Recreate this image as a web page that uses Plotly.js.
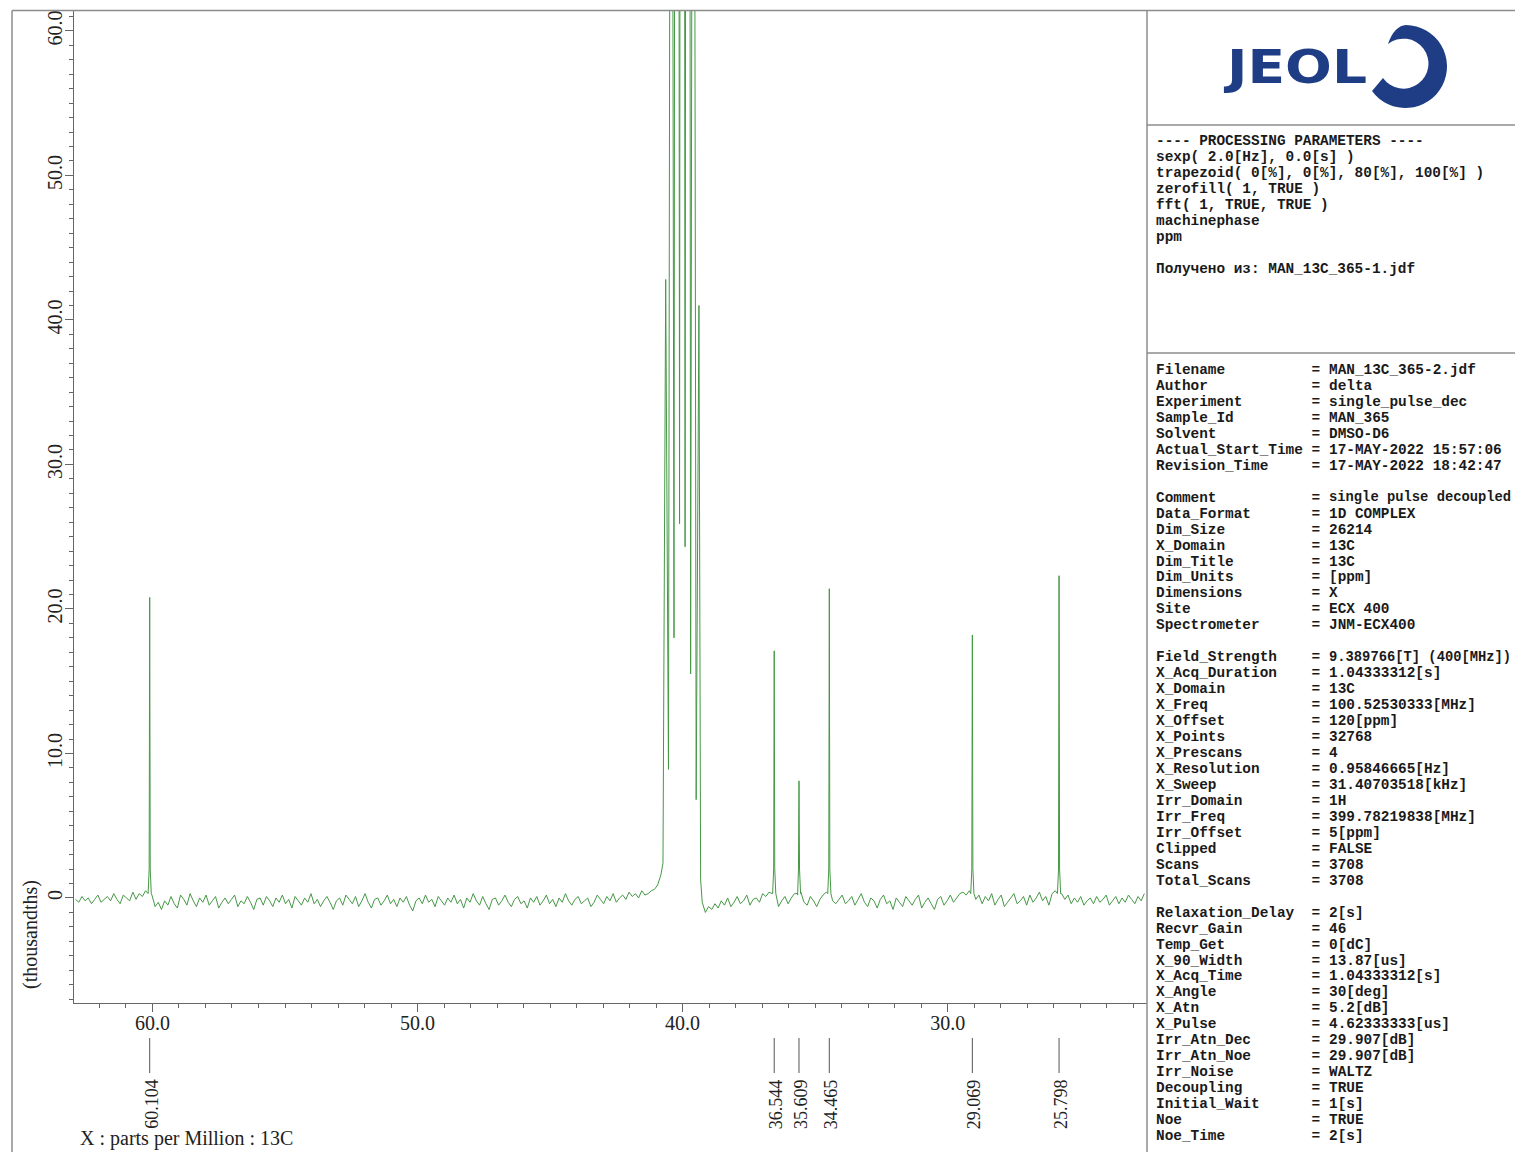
<!DOCTYPE html>
<html><head><meta charset="utf-8">
<script src="https://cdn.plot.ly/plotly-3.0.1.min.js"></script>
<style>html,body{margin:0;padding:0;background:#fff;} #chart{width:1515px;height:1152px;}</style>
</head><body><div id="chart"></div>
<script>
// ---------------- DATA ----------------
const noiseStartPpm = 62.9;
const noiseStepPpm = 0.12;
const baselineNoise = [
 -0.1,-0.3,0.1,-0.2,0.0,-0.4,-0.1,0.2,-0.3,-0.1,0.1,-0.2,0.3,-0.1,-0.4,0.2,0.0,-0.2,0.4,-0.1,
 0.3,0.1,0.5,0.6,0.2,-0.6,-0.3,-0.8,-0.2,-0.5,0.1,-0.4,-0.7,0.2,-0.1,-0.5,0.3,-0.2,-0.6,0.0,
 -0.3,0.2,-0.5,-0.2,0.1,-0.7,-0.3,0.0,-0.4,-0.1,0.2,-0.6,-0.2,-0.4,0.1,-0.3,-0.8,-0.1,0.0,-0.5,
 0.1,-0.2,-0.6,0.0,-0.3,0.2,-0.4,-0.1,-0.7,0.1,-0.2,-0.5,0.0,-0.3,0.3,-0.4,-0.1,-0.6,-0.2,0.1,
 -0.3,-0.8,-0.2,0.0,-0.5,0.2,-0.1,-0.4,0.1,-0.6,-0.2,0.3,-0.3,-0.7,-0.1,0.0,-0.5,-0.2,0.2,-0.4,
 -0.1,-0.6,0.0,-0.3,0.1,-0.5,-0.9,-0.2,0.0,-0.4,0.2,-0.3,-0.1,-0.6,0.1,-0.2,-0.5,0.0,-0.3,0.2,
 -0.4,-0.1,-0.7,0.0,-0.3,0.3,-0.2,-0.5,0.1,-0.4,-0.8,-0.1,0.0,-0.5,-0.2,0.2,-0.3,-0.6,-0.1,0.1,
 -0.4,-0.2,-0.7,0.0,-0.3,0.1,-0.5,-0.2,0.2,-0.4,-0.1,-0.6,0.0,-0.3,0.3,-0.2,-0.5,-0.1,0.1,-0.4,
 -0.2,0.0,-0.6,-0.3,0.2,-0.1,-0.4,0.1,-0.2,0.3,-0.3,0.0,0.2,-0.1,0.4,0.1,0.3,0.0,0.5,0.2,
 0.3,0.5,0.6,0.9,1.6,null,null,null,null,null,null,null,null,null,null,null,null,-0.3,-1.0,-0.6,
 -0.8,-0.4,-0.7,-0.2,-0.5,0.0,-0.6,-0.3,0.1,-0.4,-0.2,0.2,-0.5,-0.1,0.0,-0.3,0.3,0.1,0.4,0.3,
 0.2,-0.6,-0.2,0.1,-0.4,0.0,0.3,0.2,0.4,-0.3,-0.5,0.1,-0.2,-0.6,-0.1,0.2,0.4,0.5,-0.2,-0.4,
 -0.1,0.2,-0.4,-0.2,0.1,-0.5,-0.1,0.3,-0.3,-0.6,0.0,-0.2,-0.7,-0.1,0.2,-0.4,-0.2,-0.8,0.0,-0.3,
 -0.6,0.1,-0.2,-0.5,-0.1,0.2,-0.7,-0.3,0.0,-0.4,-0.8,-0.1,0.1,-0.5,-0.2,0.2,-0.3,0.0,0.3,0.4,
 0.2,0.5,0.3,-0.1,0.2,-0.4,0.1,-0.2,0.3,-0.5,-0.1,0.2,-0.6,-0.3,0.0,0.3,-0.4,-0.2,0.1,-0.5,
 0.2,-0.3,0.0,0.4,-0.2,0.1,-0.5,0.3,0.5,0.4,0.3,-0.1,0.2,-0.4,0.0,-0.3,0.1,-0.5,-0.2,0.0,
 -0.4,0.1,-0.3,-0.1,0.2,-0.5,-0.2,0.1,-0.4,0.0,-0.3,0.2,-0.1,-0.4,0.1,-0.2,0.3
];
const peakPpm = [60.104, 36.544, 35.609, 34.465, 29.069, 25.798];
const peakHeight = [20.8, 17.1, 8.1, 21.4, 18.2, 22.3];
const peakLabels = ['60.104', '36.544', '35.609', '34.465', '29.069', '25.798'];
const solventPpm = [40.638, 40.429, 40.220, 40.011, 39.802, 39.593, 39.384];
const solventHeight = [42.8, 130, 250, 290, 250, 130, 41.0];
const solventValleyPpm = [40.533, 40.324, 40.115, 39.906, 39.697, 39.488];
const solventValley = [8.9, 18.0, 25.9, 24.3, 15.5, 6.8];
const solventEdgePpm = [40.74, 39.32];
const solventEdge = [2.4, 1.3];
const xTickVals = [60, 50, 40, 30];
const xTickText = ['60.0', '50.0', '40.0', '30.0'];
const yTickVals = [0, 10, 20, 30, 40, 50, 60];
const yTickText = ['0', '10.0', '20.0', '30.0', '40.0', '50.0', '60.0'];
const xAxisTitle = 'X : parts per Million : 13C';
const yAxisTitle = '(thousandths)';
const procParams = [
 '---- PROCESSING PARAMETERS ----',
 'sexp( 2.0[Hz], 0.0[s] )',
 'trapezoid( 0[%], 0[%], 80[%], 100[%] )',
 'zerofill( 1, TRUE )',
 'fft( 1, TRUE, TRUE )',
 'machinephase',
 'ppm',
 '',
 'Получено из: MAN_13C_365-1.jdf'
];
const acqNames = ['Filename','Author','Experiment','Sample_Id','Solvent','Actual_Start_Time','Revision_Time',null,
 'Comment','Data_Format','Dim_Size','X_Domain','Dim_Title','Dim_Units','Dimensions','Site','Spectrometer',null,
 'Field_Strength','X_Acq_Duration','X_Domain','X_Freq','X_Offset','X_Points','X_Prescans','X_Resolution','X_Sweep',
 'Irr_Domain','Irr_Freq','Irr_Offset','Clipped','Scans','Total_Scans',null,
 'Relaxation_Delay','Recvr_Gain','Temp_Get','X_90_Width','X_Acq_Time','X_Angle','X_Atn','X_Pulse',
 'Irr_Atn_Dec','Irr_Atn_Noe','Irr_Noise','Decoupling','Initial_Wait','Noe','Noe_Time'];
const acqValues = ['MAN_13C_365-2.jdf','delta','single_pulse_dec','MAN_365','DMSO-D6','17-MAY-2022 15:57:06','17-MAY-2022 18:42:47',null,
 'single pulse decoupled','1D COMPLEX','26214','13C','13C','[ppm]','X','ECX 400','JNM-ECX400',null,
 '9.389766[T] (400[MHz])','1.04333312[s]','13C','100.52530333[MHz]','120[ppm]','32768','4','0.95846665[Hz]','31.40703518[kHz]',
 '1H','399.78219838[MHz]','5[ppm]','FALSE','3708','3708',null,
 '2[s]','46','0[dC]','13.87[us]','1.04333312[s]','30[deg]','5.2[dB]','4.62333333[us]',
 '29.907[dB]','29.907[dB]','WALTZ','TRUE','1[s]','TRUE','2[s]'];

// ---------------- BUILD SPECTRUM ----------------
const pts = [];
baselineNoise.forEach((v, i) => {
  if (v === null) return;
  const p = noiseStartPpm - i * noiseStepPpm;
  if (peakPpm.some(q => Math.abs(q - p) < 0.05)) return;
  pts.push([p, v]);
});
peakPpm.forEach((p, k) => {
  const h = peakHeight[k];
  pts.push([p + 0.06, 0.3], [p + 0.02, 2.0], [p, h], [p - 0.02, 2.0], [p - 0.06, 0.3]);
});
solventEdgePpm.forEach((p, k) => pts.push([p, solventEdge[k]]));
solventPpm.forEach((p, k) => pts.push([p, solventHeight[k]]));
solventValleyPpm.forEach((p, k) => pts.push([p, solventValley[k]]));
pts.sort((a, b) => b[0] - a[0]);

// ---------------- LAYOUT HELPERS ----------------
const L = 74, T = 11, W = 1073, H = 992;
const px = p => (p - L) / W;
const py = q => (T + H - q) / H;
const frameColor = '#8c8c8c';
const serif = 'Liberation Serif, Times New Roman, serif';
const mono = 'Liberation Mono, Courier New, monospace';
const monoSize = 14.4, charW = 0.6 * monoSize;

const shapes = [
  {type:'line', xref:'paper', yref:'paper', x0:px(12), x1:px(1515), y0:py(10.5), y1:py(10.5), line:{color:frameColor, width:1.5}},
  {type:'line', xref:'paper', yref:'paper', x0:px(12), x1:px(12), y0:py(10.5), y1:py(1152), line:{color:frameColor, width:1.5}},
  {type:'line', xref:'paper', yref:'paper', x0:px(1147), x1:px(1147), y0:py(10.5), y1:py(1152), line:{color:frameColor, width:1.5}},
  {type:'line', xref:'paper', yref:'paper', x0:px(1147), x1:px(1515), y0:py(125), y1:py(125), line:{color:frameColor, width:1.5}},
  {type:'line', xref:'paper', yref:'paper', x0:px(1147), x1:px(1515), y0:py(353), y1:py(353), line:{color:frameColor, width:1.5}}
];
peakPpm.forEach(p => shapes.push({type:'line', xref:'x', yref:'paper', x0:p, x1:p, y0:py(1038), y1:py(1073), line:{color:'#555', width:1}}));

const annotations = [];
peakLabels.forEach((t, k) => annotations.push({
  text:t, xref:'x', x:peakPpm[k], xshift:2, yref:'paper', y:py(1104), textangle:-90,
  showarrow:false, xanchor:'center', yanchor:'middle', font:{family:serif, size:18, color:'#222'}
}));
annotations.push({text:xAxisTitle, xref:'paper', x:px(78), xanchor:'left', yref:'paper', y:py(1138), yanchor:'middle',
  showarrow:false, font:{family:serif, size:20, color:'#222'}});
annotations.push({text:yAxisTitle, xref:'paper', x:px(30), xanchor:'center', yref:'paper', y:py(935), yanchor:'middle',
  textangle:-90, showarrow:false, font:{family:serif, size:20, color:'#222'}});

const nb = s => s.replace(/ /g, '\u00a0');
const monoText = (t, xPix, yPix, size) => annotations.push({text:nb(t), xref:'paper', x:px(xPix), xanchor:'left',
  yref:'paper', y:py(yPix), yanchor:'middle', showarrow:false,
  font:{family:mono, size:size, color:'#1a1a1a', weight:700}});
procParams.forEach((t, k) => { if (t) monoText(t, 1154, 141 + 16 * k, monoSize); });
const valueX = 1154 + 20 * charW;
const valueRoom = 1512 - valueX - 3;
acqNames.forEach((n, k) => {
  if (n === null) return;
  const yPix = 370 + 15.96 * k;
  monoText(n.padEnd(18, ' ') + '=', 1154, yPix, monoSize);
  const v = acqValues[k];
  const size = Math.min(monoSize, valueRoom / (0.6 * v.length));
  monoText(v, valueX, yPix, size);
});

const logoSvg = "<svg xmlns='http://www.w3.org/2000/svg' width='230' height='92' viewBox='0 0 230 92'>" +
  "<text x='7' y='63' font-family='DejaVu Sans' font-weight='bold' font-size='46' textLength='140' lengthAdjust='spacingAndGlyphs' fill='#1f3d85'>JEOL</text>" +
  "<path d='M 168 24 Q 174 6 186 5 A 41.5 41.5 0 1 1 152 71 L 163 58 A 25 25 0 1 0 168 24 Z' fill='#1f3d85'/></svg>";
const images = [{source:'data:image/svg+xml;charset=utf-8,' + encodeURIComponent(logoSvg),
  xref:'paper', yref:'paper', x:px(1220), y:py(20), sizex:230 / W, sizey:92 / H,
  xanchor:'left', yanchor:'top', sizing:'stretch', layer:'above'}];

const trace = {
  type:'scatter', mode:'lines',
  x: pts.map(d => d[0]), y: pts.map(d => d[1]),
  line:{color:'rgb(70,152,70)', width:1, simplify:false},
  hoverinfo:'skip'
};

const axisCommon = {
  showgrid:false, zeroline:false, showline:true, linecolor:'#666', linewidth:1,
  ticks:'outside', tickcolor:'#666', tickwidth:1, ticklen:8,
  tickfont:{family:serif, size:20, color:'#222'},
  minor:{ticks:'outside', ticklen:4, tickcolor:'#666', tickwidth:1, dtick:1, tick0:0}
};
const layout = {
  width:1515, height:1152,
  margin:{l:L, r:1515 - L - W, t:T, b:1152 - T - H, pad:0},
  paper_bgcolor:'#fff', plot_bgcolor:'#fff',
  showlegend:false,
  xaxis:Object.assign({}, axisCommon, {range:[62.96, 22.48], autorange:false, tickmode:'array', tickvals:xTickVals, ticktext:xTickText, ticklabelstandoff:-6}),
  yaxis:Object.assign({}, axisCommon, {range:[-7.27, 61.38], autorange:false, tickmode:'array', tickvals:yTickVals, ticktext:yTickText, tickangle:-90, ticklabelstandoff:-5}),
  shapes:shapes, annotations:annotations, images:images
};
Plotly.newPlot('chart', [trace], layout, {staticPlot:true, displayModeBar:false});
</script></body></html>
